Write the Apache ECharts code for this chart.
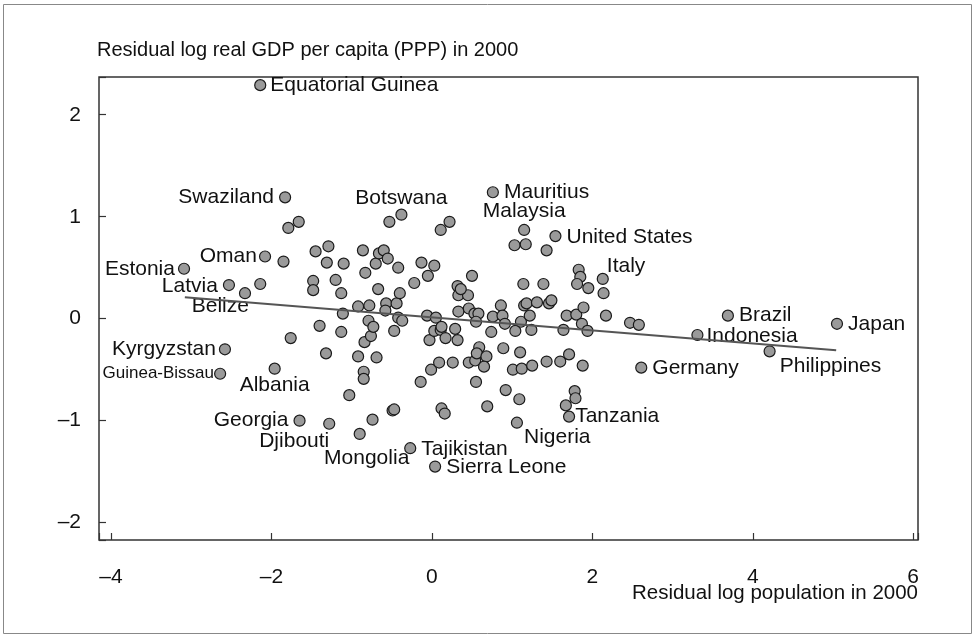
<!DOCTYPE html>
<html>
<head>
<meta charset="utf-8">
<script src="https://cdn.jsdelivr.net/npm/echarts@6/dist/echarts.min.js"></script>
<style>
html, body { margin: 0; padding: 0; background: #fff; }
#main { width: 975px; height: 637px; }
</style>
</head>
<body>
<div id="main"></div>
<script>
// residuals; '' = unlabelled country
var names = [
	'Estonia', 'Kyrgyzstan', 'Guinea-Bissau', 'Latvia', 'Belize', 'Equatorial Guinea', '', 'Oman', 'Albania', 'Swaziland',
	'', '', '', 'Georgia', '', '', '', '', '', '',
	'', '', 'Djibouti', '', '', '', '', '', '', '',
	'', 'Mongolia', '', '', '', '', '', '', '', '',
	'', '', '', '', '', '', '', '', '', '',
	'', '', '', '', '', '', '', '', 'Botswana', '',
	'Tajikistan', '', '', '', '', '', '', '', '', '',
	'', '', 'Sierra Leone', '', '', '', '', '', '', '',
	'', '', '', '', '', '', '', '', '', '',
	'', '', '', '', '', '', '', '', '', '',
	'Mauritius', '', '', '', '', '', '', '', '', '',
	'Nigeria', '', '', '', '', '', 'Malaysia', '', '', '',
	'', '', '', '', '', '', '', '', '', 'United States',
	'', '', '', '', '', '', 'Tanzania', '', '', '',
	'', '', '', '', '', '', '', 'Italy', '', '',
	'', '', 'Germany', '', 'Indonesia', 'Brazil', 'Philippines', 'Japan', ''
];
var popResid = [
	-3.09, -2.58, -2.64, -2.53, -2.33, -2.14, -2.14, -2.08, -1.96, -1.83,
	-1.85, -1.79, -1.66, -1.65, -1.76, -1.48, -1.48, -1.45, -1.40, -1.32,
	-1.31, -1.29, -1.28, -1.20, -1.13, -1.13, -1.10, -1.11, -1.03, -0.92,
	-0.92, -0.90, -0.86, -0.85, -0.85, -0.83, -0.84, -0.79, -0.78, -0.76,
	-0.73, -0.74, -0.70, -0.69, -0.67, -0.66, -0.60, -0.57, -0.58, -0.55,
	-0.53, -0.49, -0.47, -0.47, -0.44, -0.42, -0.42, -0.40, -0.38, -0.37,
	-0.27, -0.22, -0.14, -0.13, -0.06, -0.05, -0.03, -0.01, 0.03, 0.05,
	0.03, 0.09, 0.04, 0.11, 0.11, 0.12, 0.17, 0.12, 0.16, 0.22,
	0.26, 0.29, 0.32, 0.32, 0.33, 0.33, 0.45, 0.46, 0.46, 0.50,
	0.53, 0.58, 0.55, 0.54, 0.55, 0.59, 0.56, 0.68, 0.65, 0.69,
	0.76, 0.74, 0.76, 0.86, 0.88, 0.91, 0.89, 0.92, 1.01, 1.03,
	1.06, 1.04, 1.09, 1.10, 1.11, 1.12, 1.15, 1.14, 1.15, 1.17,
	1.18, 1.22, 1.24, 1.25, 1.31, 1.39, 1.43, 1.43, 1.46, 1.54,
	1.49, 1.60, 1.64, 1.68, 1.67, 1.71, 1.71, 1.78, 1.79, 1.80,
	1.83, 1.85, 1.81, 1.87, 1.88, 1.89, 1.94, 2.13, 1.95, 2.14,
	2.17, 2.47, 2.61, 2.58, 3.31, 3.69, 4.21, 5.05, 0.36
];
var gdpResid = [
	0.49, -0.30, -0.54, 0.33, 0.25, 2.29, 0.34, 0.61, -0.49, 1.19,
	0.56, 0.89, 0.95, -1.00, -0.19, 0.37, 0.28, 0.66, -0.07, -0.34,
	0.55, 0.71, -1.03, 0.38, 0.25, -0.13, 0.54, 0.05, -0.75, 0.12,
	-0.37, -1.13, 0.67, -0.52, -0.59, 0.45, -0.23, -0.02, 0.13, -0.17,
	-0.08, -0.99, 0.54, -0.38, 0.29, 0.64, 0.67, 0.15, 0.08, 0.59,
	0.95, -0.90, -0.89, -0.12, 0.15, 0.01, 0.50, 0.25, 1.02, -0.02,
	-1.27, 0.35, -0.62, 0.55, 0.03, 0.42, -0.21, -0.50, 0.52, 0.01,
	-0.12, -0.43, -1.45, 0.87, -0.11, -0.08, -0.19, -0.88, -0.93, 0.95,
	-0.43, -0.10, -0.21, 0.32, 0.23, 0.07, 0.23, -0.43, 0.10, 0.42,
	0.05, 0.05, -0.03, -0.41, -0.62, -0.28, -0.34, -0.37, -0.47, -0.86,
	1.24, -0.13, 0.02, 0.13, 0.03, -0.05, -0.29, -0.70, -0.50, 0.72,
	-1.02, -0.12, -0.79, -0.33, -0.03, -0.49, 0.87, 0.34, 0.13, 0.73,
	0.15, 0.03, -0.11, -0.46, 0.16, 0.34, -0.42, 0.67, 0.15, 0.81,
	0.18, -0.42, -0.11, 0.03, -0.85, -0.35, -0.96, -0.71, -0.78, 0.04,
	0.48, 0.41, 0.34, -0.05, -0.46, 0.11, -0.12, 0.39, 0.30, 0.25,
	0.03, -0.04, -0.48, -0.06, -0.16, 0.03, -0.32, -0.05, 0.29
];
// fitted line end points
var fitX = [-3.08, 5.04];
var fitY = [0.21, -0.31];

var FONT = '"Liberation Sans", Arial, Helvetica, sans-serif';

// where each country name sits: [position, dx, dy]
var labelPlace = {
	'Equatorial Guinea': ['right', -1, 0],
	'Swaziland': ['left', 0, 0],
	'Botswana': ['top', 0, 5],
	'Mauritius': ['right', 0, 0],
	'Malaysia': ['top', 0, 3],
	'United States': ['right', 0, 1],
	'Italy': ['right', -7, -13],
	'Estonia': ['left', 2, 0],
	'Oman': ['left', 3, 0],
	'Latvia': ['left', 0, 1],
	'Belize': ['left', 15, 13],
	'Kyrgyzstan': ['left', 2, 0],
	'Guinea-Bissau': ['left', 5, 0],
	'Albania': ['bottom', 0, -5],
	'Georgia': ['left', 0, 0],
	'Djibouti': ['bottom', -35, -4],
	'Mongolia': ['bottom', 7, 3],
	'Tajikistan': ['right', 0, 1],
	'Sierra Leone': ['right', 0, 1],
	'Nigeria': ['right', -4, 14],
	'Tanzania': ['right', -5, 0],
	'Germany': ['right', 0, 1],
	'Brazil': ['right', 0, 0],
	'Indonesia': ['right', -2, 1],
	'Japan': ['right', 0, 0],
	'Philippines': ['right', -1, 15]
};

var pts = [];
var shift = [];
for (var i = 0; i < popResid.length; i++) {
	var item = { value: [popResid[i], gdpResid[i]] };
	var nm = names[i] || '';
	shift.push([0, 0]);
	if (nm) {
		var p = labelPlace[nm] || ['right', 0, 0];
		shift[i] = [p[1], p[2]];
		item.label = {
			show: true,
			formatter: nm,
			position: p[0],
			fontSize: nm === 'Guinea-Bissau' ? 17 : 21
		};
	}
	pts.push(item);
}
var fitLine = [];
for (var j = 0; j < fitX.length; j++) {
	fitLine.push([fitX[j], fitY[j]]);
}

function minusFmt(v) {
	if (Math.abs(v - Math.round(v)) > 1e-6) return '';
	return v < 0 ? '\u2013' + Math.abs(v) : String(v);
}

var chart = echarts.init(document.getElementById('main'));
var option = {
	animation: false,
	backgroundColor: '#fff',
	textStyle: { fontFamily: FONT },
	grid: {
		left: 99,
		right: 57,
		top: 77,
		bottom: 97,
		show: true,
		borderColor: '#333',
		borderWidth: 1.5,
		backgroundColor: 'transparent'
	},
	xAxis: {
		type: 'value',
		min: -4.15,
		max: 6.06,
		splitNumber: 5,
		axisLine: { show: false, onZero: false },
		axisTick: { show: true, inside: true, length: 7, lineStyle: { color: '#333', width: 1.2 } },
		splitLine: { show: false },
		axisLabel: { color: '#111', fontSize: 21, fontFamily: FONT, margin: 27, formatter: minusFmt }
	},
	yAxis: {
		type: 'value',
		min: -2.17,
		max: 2.37,
		splitNumber: 5,
		axisLine: { show: false, onZero: false },
		axisTick: { show: true, inside: true, length: 7, lineStyle: { color: '#333', width: 1.2 } },
		splitLine: { show: false },
		axisLabel: { color: '#111', fontSize: 21, fontFamily: FONT, margin: 18, formatter: minusFmt }
	},
	graphic: [
		{
			type: 'rect',
			shape: { x: 3.5, y: 4.5, width: 968, height: 629 },
			style: { fill: 'none', stroke: '#888', lineWidth: 1 },
			silent: true
		},
		{
			type: 'text',
			left: 97,
			top: 40,
			style: { text: 'Residual log real GDP per capita (PPP) in 2000', fill: '#111', font: '20px ' + FONT }
		},
		{
			type: 'text',
			right: 57,
			top: 583,
			style: { text: 'Residual log population in 2000', fill: '#111', font: '20.5px ' + FONT }
		}
	],
	series: [
		{
			type: 'scatter',
			data: pts,
			symbol: 'circle',
			symbolSize: 11,
			itemStyle: { color: '#9a9a9a', borderColor: '#1a1a1a', borderWidth: 1.2, opacity: 1 },
			label: { show: false, color: '#111', fontFamily: FONT, fontSize: 21, distance: 5 },
			labelLayout: function (params) {
				var s = shift[params.dataIndex] || [0, 0];
				return { dx: s[0], dy: s[1], hideOverlap: false };
			},
			z: 2
		},
		{
			type: 'line',
			data: fitLine,
			symbol: 'none',
			lineStyle: { color: '#555', width: 2 },
			z: 3,
			silent: true
		}
	]
};
chart.setOption(option);
</script>
</body>
</html>
